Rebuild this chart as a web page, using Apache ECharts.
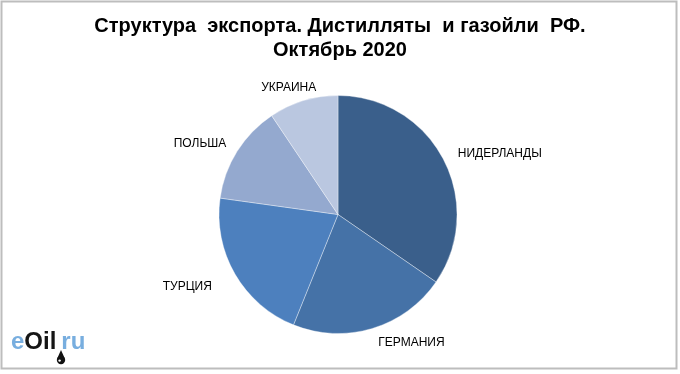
<!DOCTYPE html>
<html>
<head>
<meta charset="utf-8">
<script src="https://cdn.jsdelivr.net/npm/echarts@6/dist/echarts.min.js"></script>
<style>
html,body{margin:0;padding:0;background:#fff;}
#chart{width:680px;height:374px;}
</style>
</head>
<body>
<div id="chart"></div>
<script>
const titleLines = ['Структура  экспорта. Дистилляты  и газойли  РФ.', 'Октябрь 2020'];
const categories = ['НИДЕРЛАНДЫ', 'ГЕРМАНИЯ', 'ТУРЦИЯ', 'ПОЛЬША', 'УКРАИНА'];
const shares = [34.6, 21.5, 21.1, 13.4, 9.4];
const colors = ['#3A5F8B', '#4572A7', '#4D80BE', '#94A9CF', '#BAC7E0'];

const chart = echarts.init(document.getElementById('chart'), null, {renderer: 'canvas'});

function labelNudge(idx) {
  // small style offsets for label placement, by category order
  switch (idx) {
    case 0: return [-3, 1];
    case 1: return [-3, 1];
    case 2: return [-6, 6];
    case 3: return [6, 0];
    case 4: return [22, 0];
    default: return [0, 0];
  }
}

const option = {
  backgroundColor: '#ffffff',
  animation: false,
  title: {
    text: titleLines.join('\n'),
    left: 'center',
    top: 9,
    textStyle: {
      fontFamily: 'Liberation Sans, Arial, sans-serif',
      fontSize: 20,
      fontWeight: 'bold',
      color: '#000',
      lineHeight: 24
    }
  },
  graphic: [
    {
      type: 'rect',
      shape: {x: 1.5, y: 1.5, width: 675, height: 367},
      style: {fill: null, stroke: '#BDBDBD', lineWidth: 2},
      silent: true,
      z: 10
    },
    {
      type: 'text',
      x: 11,
      y: 330,
      style: {
        text: '{a|e}{b|Oil}{c|ru}',
        rich: {
          a: {fontFamily: 'Liberation Sans, Arial, sans-serif', fontSize: 24, fontWeight: 'bold', fill: '#78AEDF'},
          b: {fontFamily: 'Liberation Sans, Arial, sans-serif', fontSize: 24, fontWeight: 'bold', fill: '#151515'},
          c: {fontFamily: 'Liberation Sans, Arial, sans-serif', fontSize: 24, fontWeight: 'bold', fill: '#78AEDF', padding: [0, 0, 0, 5]}
        }
      }
    },
    {
      type: 'polygon',
      shape: {points: [[61, 350], [57.2, 358.5], [64.8, 358.5]]},
      style: {fill: '#111'}
    },
    {
      type: 'circle',
      shape: {cx: 61, cy: 360, r: 4.2},
      style: {fill: '#111'}
    },
    {
      type: 'circle',
      shape: {cx: 59.6, cy: 360.6, r: 1.2},
      style: {fill: '#fff'},
      z: 20
    }
  ],
  series: [{
    type: 'pie',
    center: [338, 214.5],
    radius: 119,
    startAngle: 90,
    clockwise: true,
    data: categories.map((c, i) => ({name: c, value: shares[i], itemStyle: {color: colors[i]}})),
    itemStyle: {borderColor: 'rgba(255,255,255,0.6)', borderWidth: 0.6},
    label: {
      show: true,
      position: 'outside',
      formatter: '{b}',
      fontFamily: 'Liberation Sans, Arial, sans-serif',
      fontSize: 12,
      color: '#000'
    },
    labelLine: {show: false, length: 14, length2: 0},
    labelLayout: function (params) {
      const n = labelNudge(params.dataIndex);
      return {dx: n[0], dy: n[1]};
    },
    emphasis: {disabled: true}
  }]
};
chart.setOption(option);
</script>
</body>
</html>
